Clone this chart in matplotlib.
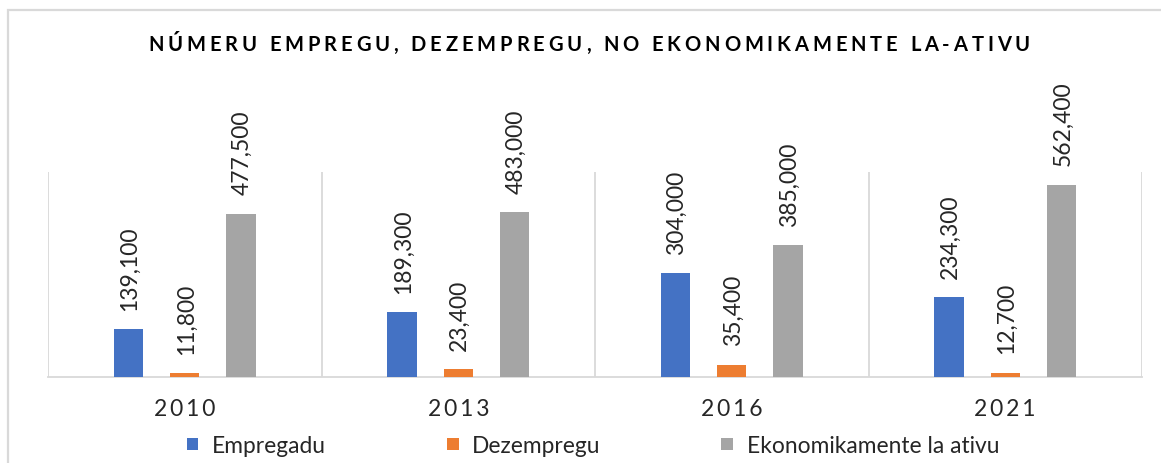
import matplotlib
matplotlib.use("Agg")
import matplotlib.pyplot as plt
import numpy as np
from matplotlib.patches import Patch, Rectangle
from matplotlib.font_manager import FontProperties

plt.rcParams['font.family'] = ['Lato', 'DejaVu Sans']

categories = ['2010', '2013', '2016', '2021']
series_names = ['Empregadu', 'Dezempregu', 'Ekonomikamente la ativu']
empregadu = [139100, 189300, 304000, 234300]
dezempregu = [11800, 23400, 35400, 12700]
ekonomikamente = [477500, 483000, 385000, 562400]
colors = ['#4472C4', '#ED7D31', '#A5A5A5']
title = 'NÚMERU EMPREGU, DEZEMPREGU, NO EKONOMIKAMENTE LA-ATIVU'

W, H = 1161, 464
fig = plt.figure(figsize=(W / 100, H / 100), dpi=100)
fig.patch.set_facecolor('white')

# chart area border (light grey)
fig.patches.append(Rectangle((8 / W, -0.1), 1.2, (1 - 11 / H) + 0.1,
                             transform=fig.transFigure, fill=False,
                             edgecolor='#d9d9d9', linewidth=1.6))

ax = fig.add_axes([48 / W, 1 - 378 / H, (1142 - 48) / W, (378 - 173) / H])
x = np.arange(len(categories))
width = 0.107
offset = 0.206
data = [empregadu, dezempregu, ekonomikamente]
for i, (vals, name, c) in enumerate(zip(data, series_names, colors)):
    bars = ax.bar(x + (i - 1) * offset, vals, width, color=c, label=name, zorder=3)
    for b, v in zip(bars, vals):
        ax.annotate(f'{v:,}', (b.get_x() + b.get_width() / 2, b.get_height()),
                    xytext=(1, 14), textcoords='offset points', rotation=90,
                    ha='center', va='bottom', fontsize=16.5, color='#262626')

ax.set_xlim(-0.5, 3.5)
ax.set_ylim(0, 600000)
ax.set_yticks([])
ax.set_xticks(x)
ax.set_xticklabels(['\u2009'.join(c) for c in categories], fontsize=16.5, color='#262626')
ax.tick_params(axis='x', length=0, pad=15)
ax.set_xticks(np.arange(-0.5, 4.0, 1.0), minor=True)
ax.tick_params(axis='x', which='minor', length=0)
ax.grid(axis='x', which='minor', color='#d9d9d9', linewidth=1.3, zorder=0)
for s in ['top', 'left', 'right']:
    ax.spines[s].set_visible(False)
ax.spines['bottom'].set_color('#d9d9d9')
ax.spines['bottom'].set_linewidth(1.3)

fs = 16.4
handles = [Patch(facecolor=c, edgecolor='none') for c in colors]
leg = fig.legend(handles, series_names, loc='center', bbox_to_anchor=(593 / W, 1 - 447 / H),
                 ncol=3, frameon=False, fontsize=fs, handlelength=0.52, handleheight=0.42,
                 handletextpad=0.6, columnspacing=5.3, borderaxespad=0)
for t in leg.get_texts():
    t.set_color('#262626')

# letter-spaced title
fig.canvas.draw()
renderer = fig.canvas.get_renderer()
fp = FontProperties(family=['Lato', 'DejaVu Sans'], weight='bold', size=14.5)
widths = []
for ch in title:
    if ch == ' ':
        w, _, _ = renderer.get_text_width_height_descent('a a', fp, ismath=False)
        w2, _, _ = renderer.get_text_width_height_descent('aa', fp, ismath=False)
        widths.append(w - w2)
    else:
        w, _, _ = renderer.get_text_width_height_descent(ch, fp, ismath=False)
        widths.append(w)
target = 1030 - 148
spacing = (target - sum(widths)) / (len(title) - 1)
xpos = 589 - target / 2
for ch, w in zip(title, widths):
    if ch != ' ':
        fig.text(xpos / W, 1 - 45 / H, ch, fontproperties=fp, ha='left', va='center', color='black')
    xpos += w + spacing

fig.savefig('out.png', dpi=100, facecolor='white')
